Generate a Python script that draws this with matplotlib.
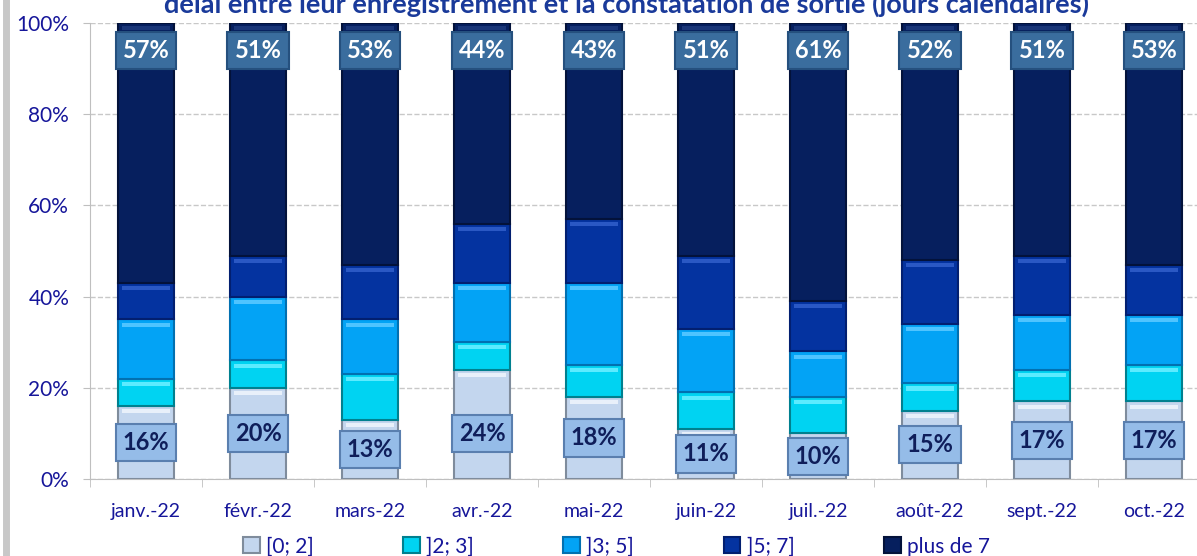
import numpy as np
import matplotlib.pyplot as plt
from matplotlib.lines import Line2D

months = ["janv.-22", "févr.-22", "mars-22", "avr.-22", "mai-22",
          "juin-22", "juil.-22", "août-22", "sept.-22", "oct.-22"]
categories = ["[0; 2]", "]2; 3]", "]3; 5]", "]5; 7]", "plus de 7"]

d_0_2 = [16, 20, 13, 24, 18, 11, 10, 15, 17, 17]
d_2_3 = [6, 6, 10, 6, 7, 8, 8, 6, 7, 8]
d_3_5 = [13, 14, 12, 13, 18, 14, 10, 13, 12, 11]
d_5_7 = [8, 9, 12, 13, 14, 16, 11, 14, 13, 11]
d_7p = [57, 51, 53, 44, 43, 51, 61, 52, 51, 53]

title = "délai entre leur enregistrement et la constatation de sortie (jours calendaires)"

colors = ["#C3D6EE", "#00D3F2", "#03A3F5", "#0433A0", "#061F5E"]
edges = ["#7F8C9C", "#00808F", "#0270B0", "#021F70", "#03123A"]
shine = ["#E8F0FA", "#5CEBFF", "#4FC4FF", "#2A58C4", "#1A3678"]
navy = "#16169A"

plt.rcParams['font.family'] = ['Lato', 'DejaVu Sans']

fig = plt.figure(figsize=(11.97, 5.56), dpi=100)
ax = fig.add_axes([90 / 1197, 1 - 479 / 556, 1120 / 1197, 456 / 556])

series = [d_0_2, d_2_3, d_3_5, d_5_7, d_7p]
x = np.arange(len(months))
bottom = np.zeros(len(months))
for vals, c, e, sh, lab in zip(series, colors, edges, shine, categories):
    vals = np.array(vals)
    ax.bar(x, vals, width=0.5, bottom=bottom, color=c, edgecolor=e,
           linewidth=1.5, label=lab, zorder=3)
    # light bevel strip at the top of each segment
    ax.bar(x, 0.9, width=0.42, bottom=bottom + vals - 1.6, color=sh,
           linewidth=0, zorder=4)
    bottom += vals

# labels on first and last segment
for i in range(len(months)):
    yb = min(d_0_2[i] / 2, 10)
    ax.text(x[i], yb, f"{d_0_2[i]}%", ha="center", va="center",
            fontsize=17, fontweight="bold", color="#0F1E5A", zorder=5,
            bbox=dict(boxstyle="square,pad=0.3", fc="#95BCE8", ec="#5A7FAF", lw=1.5))
    ax.text(x[i], 94, f"{d_7p[i]}%", ha="center", va="center",
            fontsize=17, fontweight="bold", color="white", zorder=5,
            bbox=dict(boxstyle="square,pad=0.3", fc="#3A6D9E", ec="#25507E", lw=1.5))

ax.set_xlim(-0.5, len(months) - 0.5)
ax.set_ylim(0, 100)
ax.set_yticks([0, 20, 40, 60, 80, 100])
ax.set_yticklabels([f"{v}%" for v in [0, 20, 40, 60, 80, 100]],
                   fontsize=15, color=navy)
ax.set_xticks(x)
ax.set_xticklabels(months, fontsize=14, color=navy)
ax.set_xticks(np.arange(-0.5, len(months), 1), minor=True)
ax.tick_params(axis="x", which="major", length=0, pad=17)
ax.tick_params(axis="x", which="minor", length=6, color="#BFBFBF", direction="out")
ax.tick_params(axis="y", length=5, color="#BFBFBF", pad=10)
ax.grid(axis="y", linestyle="--", color="#C8C8C8", linewidth=1, zorder=0)
for s in ["top", "right"]:
    ax.spines[s].set_visible(False)
ax.spines["left"].set_color("#BFBFBF")
ax.spines["bottom"].set_color("#BFBFBF")

ax.legend(loc="upper center", bbox_to_anchor=(0.47, -0.085), ncol=5,
          frameon=False, fontsize=15, handlelength=0.8, handleheight=0.8,
          columnspacing=4.3, handletextpad=0.3, labelcolor=navy)

fig.text(626 / 1197, 1 - 4 / 556, title, ha="center", va="center",
         fontsize=19.5, fontweight="bold", color="#1A3A9A")

fig.add_artist(Line2D([6 / 1197, 6 / 1197], [0, 1], color="#C8C8C8",
                      linewidth=5, transform=fig.transFigure))

fig.savefig("out.png", dpi=100)
